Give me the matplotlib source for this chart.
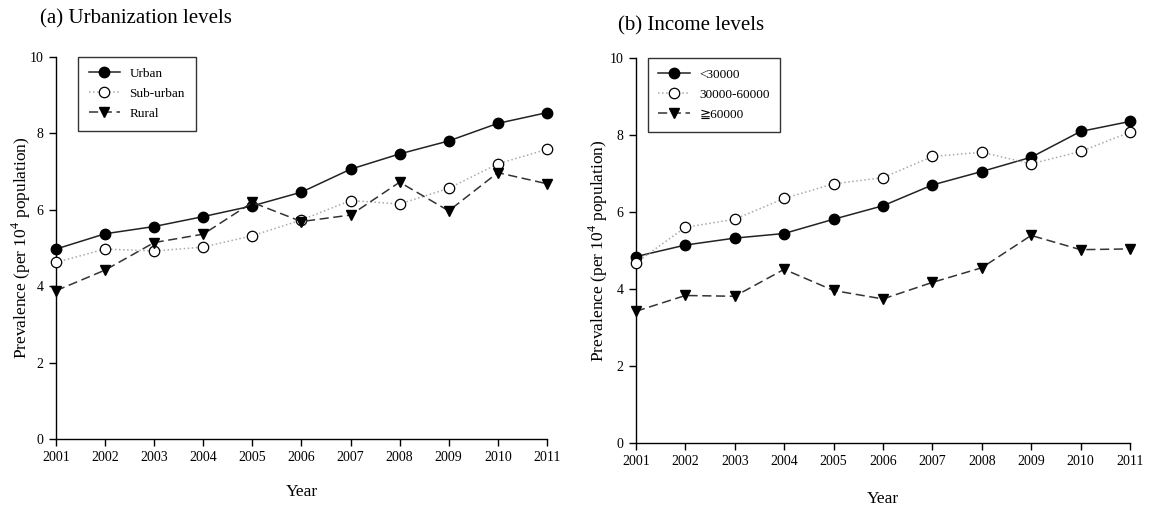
import matplotlib
matplotlib.use('Agg')
import matplotlib.pyplot as plt
import numpy as np

plt.rcParams['font.family'] = ['Liberation Serif', 'DejaVu Sans']
plt.rcParams['mathtext.fontset'] = 'custom'
plt.rcParams['mathtext.rm'] = 'Liberation Serif'

years = list(range(2001, 2012))

# Prevalence per 10^4 population, by urbanization level
urban = [4.97, 5.37, 5.56, 5.82, 6.10, 6.46, 7.06, 7.46, 7.80, 8.26, 8.54]
sub_urban = [4.62, 4.97, 4.92, 5.02, 5.32, 5.73, 6.24, 6.15, 6.56, 7.20, 7.58]
rural = [3.88, 4.42, 5.14, 5.36, 6.19, 5.69, 5.86, 6.72, 5.97, 6.97, 6.68]

# Prevalence per 10^4 population, by income level
inc_low = [4.84, 5.14, 5.32, 5.44, 5.81, 6.16, 6.70, 7.05, 7.42, 8.09, 8.35]
inc_mid = [4.68, 5.60, 5.81, 6.35, 6.73, 6.89, 7.44, 7.55, 7.25, 7.57, 8.07]
inc_high = [3.42, 3.83, 3.81, 4.51, 3.96, 3.74, 4.17, 4.55, 5.39, 5.02, 5.04]

urb_labels = ['Urban', 'Sub-urban', 'Rural']
inc_labels = ['<30000', '30000-60000', '\u226760000']


def draw_panel(ax, series, labels, leg_x, ylab_x):
    solid, dotted, dashed = series
    ax.plot(years, solid, '-', color='#222222', lw=1.1, marker='o', ms=7.5,
            mfc='black', mec='black', clip_on=False, zorder=3, label=labels[0])
    ax.plot(years, dotted, ':', color='#aaaaaa', lw=1.1, marker='o', ms=7.5,
            mfc='white', mec='black', mew=0.9, clip_on=False, zorder=3, label=labels[1])
    ax.plot(years, dashed, '--', color='#333333', lw=1.1, dashes=(6, 3), marker='v', ms=7.5,
            mfc='black', mec='black', clip_on=False, zorder=3, label=labels[2])

    ax.set_xlim(2001, 2011)
    ax.set_ylim(0, 10)
    ax.set_xticks(years)
    ax.set_yticks(np.arange(0, 11, 2))
    for s in ('top', 'right'):
        ax.spines[s].set_visible(False)
    for s in ('left', 'bottom'):
        ax.spines[s].set_linewidth(1.0)
    ax.tick_params(direction='out', length=5, width=1, labelsize=10, pad=4)
    ax.set_xlabel('Year', fontsize=12.5, labelpad=14)
    ax.set_ylabel('Prevalence (per 10$^4$ population)', fontsize=12.5)
    ax.yaxis.set_label_coords(ylab_x, 0.5)
    leg = ax.legend(loc='upper left', bbox_to_anchor=(leg_x, 1.0), borderaxespad=0,
                    fontsize=9.5, frameon=True, fancybox=False, edgecolor='black',
                    handlelength=2.4, borderpad=0.8, labelspacing=0.6, handletextpad=0.7)
    leg.get_frame().set_linewidth(1.0)


fig = plt.figure(figsize=(11.55, 5.08), dpi=100)
ax1 = fig.add_axes([0.0485, 0.136, 0.425, 0.752])
ax2 = fig.add_axes([0.5506, 0.128, 0.4277, 0.758])

draw_panel(ax1, (urban, sub_urban, rural), urb_labels, 0.045, -0.046)
draw_panel(ax2, (inc_low, inc_mid, inc_high), inc_labels, 0.024, -0.053)
ax2.xaxis.labelpad = 16

fig.text(0.035, 0.963, '(a) Urbanization levels', fontsize=15, va='center', ha='left')
fig.text(0.535, 0.950, '(b) Income levels', fontsize=15, va='center', ha='left')

fig.savefig('out.png', dpi=100)
